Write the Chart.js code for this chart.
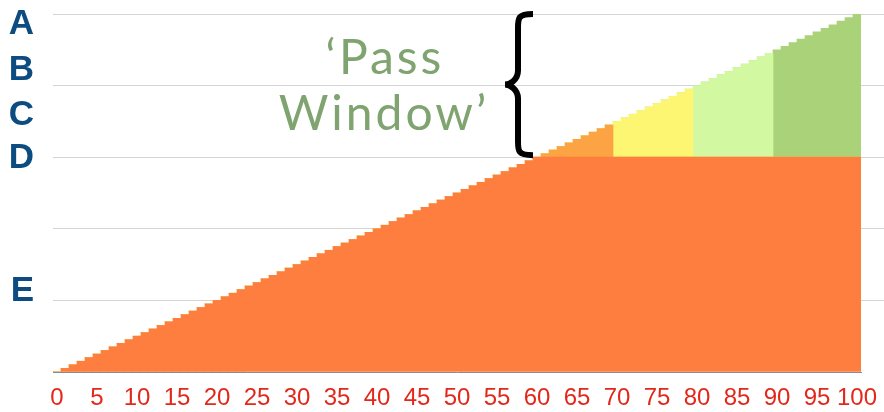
<!DOCTYPE html>
<html>
<head>
<meta charset="utf-8">
<script src="https://cdn.jsdelivr.net/npm/chart.js@4"></script>
<style>
  html, body { margin: 0; padding: 0; background: #fff; }
  #wrap { width: 884px; height: 412px; position: relative; }
</style>
</head>
<body>
<div id="wrap"><canvas id="chart"></canvas></div>
<script>
  "use strict";

  // score on each bar (0..100)
  var scores = [
    0, 1, 2, 3, 4, 5, 6, 7, 8, 9,
    10, 11, 12, 13, 14, 15, 16, 17, 18, 19,
    20, 21, 22, 23, 24, 25, 26, 27, 28, 29,
    30, 31, 32, 33, 34, 35, 36, 37, 38, 39,
    40, 41, 42, 43, 44, 45, 46, 47, 48, 49,
    50, 51, 52, 53, 54, 55, 56, 57, 58, 59,
    60, 61, 62, 63, 64, 65, 66, 67, 68, 69,
    70, 71, 72, 73, 74, 75, 76, 77, 78, 79,
    80, 81, 82, 83, 84, 85, 86, 87, 88, 89,
    90, 91, 92, 93, 94, 95, 96, 97, 98, 99,
    100
  ];
  var categories = scores.map(String);

  // grade letters and where they sit on the score axis
  var gradeLetters = ["A", "B", "C", "D", "E"];
  var gradeLevels = [97, 84.4, 71.6, 59.7, 22.4];

  // pass threshold and the bands stacked above it
  var passMark = 60;
  var bandStarts = [60, 70, 80, 90];
  var bandEnds = [70, 80, 90, 101];
  var bandColors = ["#fca443", "#fdf673", "#d3f8a2", "#a9d279"];
  var baseColor = "#fe7e3f";

  var gridTicks = [0, 20, 40, 60, 80, 100];

  function barSet(data, color) {
    return {
      data: data,
      backgroundColor: color,
      borderWidth: 0,
      barPercentage: 1,
      categoryPercentage: 1,
      stack: "s"
    };
  }

  var datasets = [barSet(scores.map(function (s) { return Math.min(s, passMark); }), baseColor)];
  bandStarts.forEach(function (lo, b) {
    datasets.push(barSet(scores.map(function (s) {
      return (s >= lo && s < bandEnds[b]) ? s - passMark : 0;
    }), bandColors[b]));
  });

  // no label overhang: the axes keep exactly the size set in afterFit
  function noPad(s) {
    s.paddingTop = 0;
    s.paddingBottom = 0;
    s.paddingLeft = 0;
    s.paddingRight = 0;
  }

  // 'Pass Window' caption and the brace spanning the pass range
  var passWindow = {
    id: "passWindow",
    afterDraw: function (chart) {
      var ctx = chart.ctx;
      var y = chart.scales.y;
      ctx.save();
      ctx.fillStyle = "#7fa470";
      ctx.font = "48px Lato";
      ctx.letterSpacing = "3px";
      ctx.textAlign = "center";
      ctx.textBaseline = "alphabetic";
      ctx.fillText("\u2018Pass", 385, 74);
      ctx.fillText("Window\u2019", 384, 130);

      var top = y.getPixelForValue(100);
      var bot = y.getPixelForValue(passMark) - 2;
      var mid = (top + bot) / 2;
      var xs = 518, xp = 505, xh = 533;
      ctx.strokeStyle = "#000";
      ctx.lineWidth = 6;
      ctx.lineCap = "butt";
      ctx.beginPath();
      ctx.moveTo(xh, top);
      ctx.bezierCurveTo(xs, top, xs, top + 4, xs, top + 14);
      ctx.lineTo(xs, mid - 14);
      ctx.bezierCurveTo(xs, mid - 4, xp + 4, mid, xp, mid);
      ctx.bezierCurveTo(xp + 4, mid, xs, mid + 4, xs, mid + 14);
      ctx.lineTo(xs, bot - 14);
      ctx.bezierCurveTo(xs, bot - 4, xs, bot, xh, bot);
      ctx.stroke();
      ctx.restore();
    }
  };

  new Chart(document.getElementById("chart"), {
    type: "bar",
    data: { labels: categories, datasets: datasets },
    plugins: [passWindow],
    options: {
      responsive: true,
      maintainAspectRatio: false,
      animation: false,
      layout: { padding: { top: 14, right: 0, left: 0, bottom: 0 } },
      plugins: { legend: { display: false }, tooltip: { enabled: false } },
      scales: {
        x: {
          stacked: true,
          grid: { display: false, drawTicks: false },
          border: { color: "#8a8a8a", width: 1 },
          ticks: {
            autoSkip: false,
            maxRotation: 0,
            padding: 12,
            color: "#e3281b",
            font: { family: "'Liberation Sans', Arial", size: 24 },
            callback: function (v, i) { return scores[i] % 5 === 0 ? categories[i] : ""; }
          },
          afterFit: function (s) { s.height = 40; noPad(s); }
        },
        y: {
          stacked: true,
          position: "right",
          min: 0,
          max: 100,
          afterBuildTicks: function (s) { s.ticks = gridTicks.map(function (v) { return { value: v }; }); },
          grid: {
            color: function (c) { return c.tick && c.tick.value === 0 ? "rgba(0,0,0,0)" : "#d4d4d4"; },
            tickColor: function (c) { return c.tick && c.tick.value === 0 ? "rgba(0,0,0,0)" : "#d4d4d4"; },
            tickLength: 23,
            lineWidth: 1
          },
          border: { display: false },
          ticks: { display: false },
          afterFit: function (s) { s.width = 23; noPad(s); }
        },
        grade: {
          position: "left",
          min: 0,
          max: 100,
          afterBuildTicks: function (s) { s.ticks = gradeLevels.map(function (v) { return { value: v }; }); },
          grid: { display: false, drawTicks: false },
          border: { display: false },
          ticks: {
            autoSkip: false,
            padding: 19,
            color: "#0d4c80",
            font: { family: "'Liberation Sans', Arial", size: 35, weight: "bold" },
            callback: function (v, i) { return gradeLetters[i]; }
          },
          afterFit: function (s) { s.width = 53; noPad(s); }
        }
      }
    }
  });
</script>
</body>
</html>
